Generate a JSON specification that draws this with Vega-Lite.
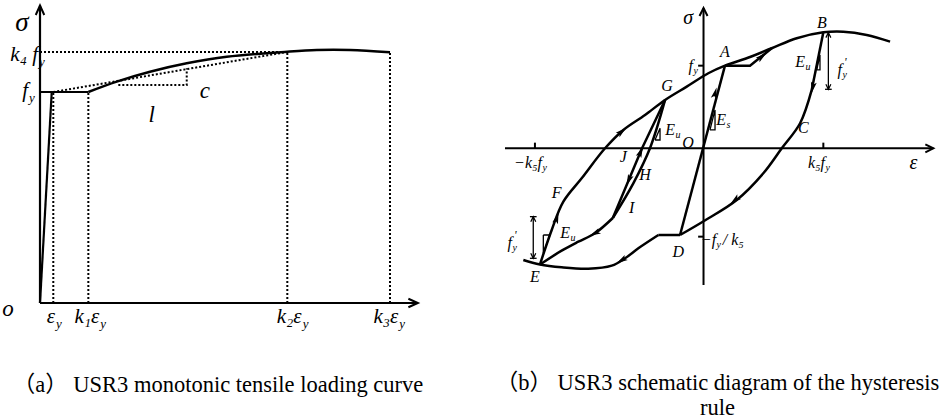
{
  "$schema": "https://vega.github.io/schema/vega-lite/v6.json",
  "autosize": {"type": "pad"},
  "padding": 0,
  "bounds": "flush",
  "spacing": 0,
  "background": "white",
  "config": {"view": {"stroke": null}},
  "datasets": {
    "L_straight": [
      {"s": "yaxis", "o": 0, "x": 0, "y": 0}, {"s": "yaxis", "o": 1, "x": 0, "y": 1.41},
      {"s": "xaxis", "o": 0, "x": 0, "y": 0}, {"s": "xaxis", "o": 1, "x": 29.0, "y": 0},
      {"s": "elastic", "o": 0, "x": 0, "y": 0}, {"s": "elastic", "o": 1, "x": 0.9, "y": 1.0},
      {"s": "plateau", "o": 0, "x": 0, "y": 1.0}, {"s": "plateau", "o": 1, "x": 3.71, "y": 1.0}
    ],
    "L_curve": [
      {"s": "hard", "o": 0, "x": 3.71, "y": 1.0},
      {"s": "hard", "o": 1, "x": 5.89, "y": 1.049},
      {"s": "hard", "o": 2, "x": 8.44, "y": 1.096},
      {"s": "hard", "o": 3, "x": 11.26, "y": 1.136},
      {"s": "hard", "o": 4, "x": 14.33, "y": 1.167},
      {"s": "hard", "o": 5, "x": 18.98, "y": 1.191},
      {"s": "hard", "o": 6, "x": 21.24, "y": 1.199},
      {"s": "hard", "o": 7, "x": 23.79, "y": 1.199},
      {"s": "hard", "o": 8, "x": 26.86, "y": 1.188}
    ],
    "L_dotted": [
      {"s": "d1", "o": 0, "x": 1.02, "y": 0}, {"s": "d1", "o": 1, "x": 1.02, "y": 1.0},
      {"s": "d2", "o": 0, "x": 3.71, "y": 0}, {"s": "d2", "o": 1, "x": 3.71, "y": 1.0},
      {"s": "d3", "o": 0, "x": 18.98, "y": 0}, {"s": "d3", "o": 1, "x": 18.98, "y": 1.19},
      {"s": "d4", "o": 0, "x": 26.86, "y": 0}, {"s": "d4", "o": 1, "x": 26.86, "y": 1.188},
      {"s": "d5", "o": 0, "x": 0, "y": 1.19}, {"s": "d5", "o": 1, "x": 18.98, "y": 1.19},
      {"s": "d6", "o": 0, "x": 1.02, "y": 1.0}, {"s": "d6", "o": 1, "x": 18.98, "y": 1.19},
      {"s": "d7", "o": 0, "x": 6.01, "y": 1.033}, {"s": "d7", "o": 1, "x": 11.26, "y": 1.033}, {"s": "d7", "o": 2, "x": 11.26, "y": 1.112}
    ],
    "L_heads": [
      {"x": 0, "y": 1.41, "a": 0},
      {"x": 29.0, "y": 0, "a": 90}
    ],
    "L_sym": [
      {"t": "σ", "x": -1.38, "y": 1.327}
    ],
    "L_plain": [
      {"t": "o", "x": -2.456, "y": -0.028},
      {"t": "c", "x": 12.66, "y": 1.005},
      {"t": "l", "x": 8.57, "y": 0.893}
    ],
    "L_sub": [
      {"m": "k₄ f", "sub": "y", "x": -0.15, "y": 1.175},
      {"m": "f", "sub": "y", "x": -0.921, "y": 1.006},
      {"m": "ε", "sub": "y", "x": 1.151, "y": -0.066},
      {"m": "k₁ε", "sub": "y", "x": 4.55, "y": -0.066},
      {"m": "k₂ε", "sub": "y", "x": 20.08, "y": -0.066},
      {"m": "k₃ε", "sub": "y", "x": 27.5, "y": -0.066}
    ],
    "R_axes": [
      {"s": "xaxis", "o": 0, "x": -1.657, "y": 0}, {"s": "xaxis", "o": 1, "x": 1.918, "y": 0},
      {"s": "yaxis", "o": 0, "x": 0, "y": -1.655}, {"s": "yaxis", "o": 1, "x": 0, "y": 1.699},
      {"s": "t1", "o": 0, "x": -1.407, "y": 0}, {"s": "t1", "o": 1, "x": -1.407, "y": 0.068},
      {"s": "t2", "o": 0, "x": 1.0, "y": 0}, {"s": "t2", "o": 1, "x": 1.0, "y": 0.068},
      {"s": "t3", "o": 0, "x": -0.045, "y": 1.0}, {"s": "t3", "o": 1, "x": 0, "y": 1.0},
      {"s": "t4", "o": 0, "x": -0.045, "y": -1.07}, {"s": "t4", "o": 1, "x": 0, "y": -1.07}
    ],
    "R_straight": [
      {"s": "DA", "o": 0, "x": -0.196, "y": -1.05}, {"s": "DA", "o": 1, "x": 0.179, "y": 1.0},
      {"s": "Aplat", "o": 0, "x": 0.179, "y": 1.0}, {"s": "Aplat", "o": 1, "x": 0.388, "y": 1.0}, {"s": "Aplat", "o": 2, "x": 0.569, "y": 1.211},
      {"s": "Bdrop", "o": 0, "x": 1.0, "y": 1.404}, {"s": "Bdrop", "o": 1, "x": 0.903, "y": 0.706},
      {"s": "Dplat", "o": 0, "x": -0.196, "y": -1.05}, {"s": "Dplat", "o": 1, "x": -0.377, "y": -1.05},
      {"s": "GIleft", "o": 0, "x": -0.321, "y": 0.585}, {"s": "GIleft", "o": 1, "x": -0.513, "y": 0}, {"s": "GIleft", "o": 2, "x": -0.757, "y": -0.844}
    ],
    "R_curves": [
      {"s": "upper", "o": 0, "x": -1.365, "y": -1.407},
      {"s": "upper", "o": 1, "x": -1.267, "y": -0.989},
      {"s": "upper", "o": 2, "x": -1.17, "y": -0.646},
      {"s": "upper", "o": 3, "x": -1.017, "y": -0.363},
      {"s": "upper", "o": 4, "x": -0.822, "y": 0},
      {"s": "upper", "o": 5, "x": -0.669, "y": 0.222},
      {"s": "upper", "o": 6, "x": -0.488, "y": 0.403},
      {"s": "upper", "o": 7, "x": -0.321, "y": 0.585},
      {"s": "upper", "o": 8, "x": -0.14, "y": 0.746},
      {"s": "upper", "o": 9, "x": 0.04, "y": 0.908},
      {"s": "upper", "o": 10, "x": 0.179, "y": 1.0},
      {"s": "upper", "o": 11, "x": 0.388, "y": 1.105},
      {"s": "upper", "o": 12, "x": 0.569, "y": 1.211},
      {"s": "upper", "o": 13, "x": 0.778, "y": 1.332},
      {"s": "upper", "o": 14, "x": 1.0, "y": 1.404},
      {"s": "upper", "o": 15, "x": 1.167, "y": 1.412},
      {"s": "upper", "o": 16, "x": 1.362, "y": 1.372},
      {"s": "upper", "o": 17, "x": 1.557, "y": 1.291},
      {"s": "unload", "o": 0, "x": 0.903, "y": 0.706},
      {"s": "unload", "o": 1, "x": 0.806, "y": 0.303},
      {"s": "unload", "o": 2, "x": 0.653, "y": 0},
      {"s": "unload", "o": 3, "x": 0.499, "y": -0.303},
      {"s": "unload", "o": 4, "x": 0.277, "y": -0.626},
      {"s": "unload", "o": 5, "x": 0.004, "y": -0.88},
      {"s": "unload", "o": 6, "x": -0.196, "y": -1.05},
      {"s": "bottom", "o": 0, "x": -0.377, "y": -1.05},
      {"s": "bottom", "o": 1, "x": -0.544, "y": -1.211},
      {"s": "bottom", "o": 2, "x": -0.655, "y": -1.332},
      {"s": "bottom", "o": 3, "x": -0.766, "y": -1.421},
      {"s": "bottom", "o": 4, "x": -0.962, "y": -1.458},
      {"s": "bottom", "o": 5, "x": -1.184, "y": -1.441},
      {"s": "bottom", "o": 6, "x": -1.365, "y": -1.407},
      {"s": "bottom", "o": 7, "x": -1.504, "y": -1.352},
      {"s": "IE", "o": 0, "x": -0.757, "y": -0.844},
      {"s": "IE", "o": 1, "x": -0.906, "y": -1.029},
      {"s": "IE", "o": 2, "x": -1.045, "y": -1.131},
      {"s": "IE", "o": 3, "x": -1.184, "y": -1.24},
      {"s": "IE", "o": 4, "x": -1.365, "y": -1.407},
      {"s": "GIright", "o": 0, "x": -0.321, "y": 0.585},
      {"s": "GIright", "o": 1, "x": -0.447, "y": 0},
      {"s": "GIright", "o": 2, "x": -0.586, "y": -0.424},
      {"s": "GIright", "o": 3, "x": -0.757, "y": -0.844}
    ],
    "R_thin": [
      {"s": "dimB", "o": 0, "x": 1.042, "y": 1.4}, {"s": "dimB", "o": 1, "x": 1.042, "y": 0.714},
      {"s": "barB", "o": 0, "x": 1.014, "y": 0.714}, {"s": "barB", "o": 1, "x": 1.07, "y": 0.714},
      {"s": "dimE", "o": 0, "x": -1.421, "y": -0.828}, {"s": "dimE", "o": 1, "x": -1.421, "y": -1.332},
      {"s": "barE1", "o": 0, "x": -1.449, "y": -0.828}, {"s": "barE1", "o": 1, "x": -1.393, "y": -0.828},
      {"s": "barE2", "o": 0, "x": -1.449, "y": -1.332}, {"s": "barE2", "o": 1, "x": -1.393, "y": -1.332},
      {"s": "triS", "o": 0, "x": 0.054, "y": 0.222}, {"s": "triS", "o": 1, "x": 0.096, "y": 0.222}, {"s": "triS", "o": 2, "x": 0.096, "y": 0.464}, {"s": "triS", "o": 3, "x": 0.054, "y": 0.222},
      {"s": "triG", "o": 0, "x": -0.405, "y": 0.1}, {"s": "triG", "o": 1, "x": -0.363, "y": 0.1}, {"s": "triG", "o": 2, "x": -0.363, "y": 0.242}, {"s": "triG", "o": 3, "x": -0.405, "y": 0.1},
      {"s": "triB", "o": 0, "x": 0.945, "y": 0.948}, {"s": "triB", "o": 1, "x": 0.972, "y": 0.948}, {"s": "triB", "o": 2, "x": 0.972, "y": 1.13}, {"s": "triB", "o": 3, "x": 0.945, "y": 0.948},
      {"s": "triE", "o": 0, "x": -1.337, "y": -1.05}, {"s": "triE", "o": 1, "x": -1.281, "y": -1.05}, {"s": "triE", "o": 2, "x": -1.337, "y": -1.271}, {"s": "triE", "o": 3, "x": -1.337, "y": -1.05}
    ],
    "R_heads": [
      {"x": 0, "y": 1.699, "a": 0},
      {"x": 1.918, "y": 0, "a": 90}
    ],
    "R_dimheads": [
      {"x": 1.042, "y": 1.4, "a": 0},
      {"x": 1.042, "y": 0.714, "a": 180},
      {"x": -1.421, "y": -0.828, "a": 0},
      {"x": -1.421, "y": -1.332, "a": 180}
    ],
    "R_arrows": [
      {"x": -1.225, "y": -0.847, "a": 18},
      {"x": -0.683, "y": 0.201, "a": 50},
      {"x": 0.486, "y": 1.109, "a": 51},
      {"x": 0.096, "y": 0.666, "a": 15},
      {"x": 0.912, "y": 0.738, "a": 191},
      {"x": 0.263, "y": -0.626, "a": 231},
      {"x": -0.683, "y": -1.355, "a": 239},
      {"x": -0.906, "y": -1.029, "a": 244},
      {"x": -0.525, "y": -0.045, "a": 23},
      {"x": -0.624, "y": -0.384, "a": 203}
    ],
    "R_sym": [
      {"t": "σ", "x": -0.129, "y": 1.578},
      {"t": "ε", "x": 1.751, "y": -0.182}
    ],
    "R_plain": [
      {"t": "O", "x": -0.129, "y": 0.064},
      {"t": "A", "x": 0.179, "y": 1.169},
      {"t": "B", "x": 0.987, "y": 1.513},
      {"t": "C", "x": 0.833, "y": 0.242},
      {"t": "D", "x": -0.21, "y": -1.252},
      {"t": "E", "x": -1.407, "y": -1.554},
      {"t": "F", "x": -1.225, "y": -0.545},
      {"t": "G", "x": -0.305, "y": 0.754},
      {"t": "H", "x": -0.488, "y": -0.323},
      {"t": "I", "x": -0.599, "y": -0.726},
      {"t": "J", "x": -0.669, "y": -0.102}
    ],
    "R_after": [
      {"t": "/ k₅", "x": 0.16, "y": -1.11}
    ],
    "R_sub": [
      {"m": "f", "sub": "y", "sup": "", "x": -0.088, "y": 0.996},
      {"m": "−k₅f", "sub": "y", "sup": "", "x": -1.348, "y": -0.178},
      {"m": "k₅f", "sub": "y", "sup": "", "x": 1.014, "y": -0.178},
      {"m": "−f", "sub": "y", "sup": "", "x": 0.105, "y": -1.11},
      {"m": "E", "sub": "s", "sup": "", "x": 0.188, "y": 0.343},
      {"m": "E", "sub": "u", "sup": "", "x": -0.238, "y": 0.222},
      {"m": "E", "sub": "u", "sup": "", "x": 0.847, "y": 1.048},
      {"m": "E", "sub": "u", "sup": "", "x": -1.114, "y": -1.029},
      {"m": "f", "sub": "y", "sup": "'", "x": 1.156, "y": 0.948},
      {"m": "f", "sub": "y", "sup": "'", "x": -1.598, "y": -1.15}
    ]
  },
  "hconcat": [
    {
      "width": 470,
      "height": 330,
      "title": {
        "text": "（a） USR3 monotonic tensile loading curve",
        "orient": "bottom", "anchor": "middle", "frame": "group",
        "offset": 43, "dx": -17, "baseline": "top",
        "font": "Liberation Serif, Noto Sans CJK SC", "fontSize": 22.5, "fontWeight": "normal", "color": "black"
      },
      "encoding": {
        "x": {"field": "x", "type": "quantitative", "scale": {"domain": [-3.07, 33.0], "nice": false, "zero": false}, "axis": null},
        "y": {"field": "y", "type": "quantitative", "scale": {"domain": [-0.128, 1.436], "nice": false, "zero": false}, "axis": null}
      },
      "layer": [
        {"data": {"name": "L_dotted"}, "mark": {"type": "line", "color": "black", "strokeWidth": 2, "strokeDash": [2, 2]},
         "encoding": {"detail": {"field": "s"}, "order": {"field": "o"}}},
        {"data": {"name": "L_straight"}, "mark": {"type": "line", "color": "black", "strokeWidth": 2.2},
         "encoding": {"detail": {"field": "s"}, "order": {"field": "o"}}},
        {"data": {"name": "L_curve"}, "mark": {"type": "line", "color": "black", "strokeWidth": 2.5, "interpolate": "catmull-rom"},
         "encoding": {"detail": {"field": "s"}, "order": {"field": "o"}}},
        {"data": {"name": "L_heads"}, "mark": {"type": "point", "shape": "M-0.45,1L0,0L0.45,1", "filled": false, "color": "black", "strokeWidth": 2, "opacity": 1, "size": 360},
         "encoding": {"angle": {"field": "a", "type": "quantitative", "scale": null}}},
        {"data": {"name": "L_sym"}, "mark": {"type": "text", "font": "Liberation Serif", "fontStyle": "italic", "fontSize": 27, "color": "black", "align": "center", "baseline": "middle"},
         "encoding": {"text": {"field": "t"}}},
        {"data": {"name": "L_plain"}, "mark": {"type": "text", "font": "Liberation Serif", "fontStyle": "italic", "fontSize": 23, "color": "black", "align": "center", "baseline": "middle"},
         "encoding": {"text": {"field": "t"}}},
        {"data": {"name": "L_sub"}, "mark": {"type": "text", "font": "Liberation Serif", "fontStyle": "italic", "fontSize": 21, "color": "black", "align": "right", "baseline": "middle"},
         "encoding": {"text": {"field": "m"}}},
        {"data": {"name": "L_sub"}, "mark": {"type": "text", "font": "Liberation Serif", "fontStyle": "italic", "fontSize": 13, "color": "black", "align": "left", "baseline": "middle", "dx": 1, "dy": 7},
         "encoding": {"text": {"field": "sub"}}}
      ]
    },
    {
      "width": 471,
      "height": 330,
      "title": {
        "text": ["（b） USR3 schematic diagram of the hysteresis", "rule"],
        "orient": "bottom", "anchor": "middle", "frame": "group",
        "offset": 42, "dx": 12, "baseline": "top", "lineHeight": 25,
        "font": "Liberation Serif, Noto Sans CJK SC", "fontSize": 22.5, "fontWeight": "normal", "color": "black"
      },
      "encoding": {
        "x": {"field": "x", "type": "quantitative", "scale": {"domain": [-1.949, 1.982], "nice": false, "zero": false}, "axis": null},
        "y": {"field": "y", "type": "quantitative", "scale": {"domain": [-2.2, 1.795], "nice": false, "zero": false}, "axis": null}
      },
      "layer": [
        {"data": {"name": "R_axes"}, "mark": {"type": "line", "color": "black", "strokeWidth": 2},
         "encoding": {"detail": {"field": "s"}, "order": {"field": "o"}}},
        {"data": {"name": "R_straight"}, "mark": {"type": "line", "color": "black", "strokeWidth": 2.5},
         "encoding": {"detail": {"field": "s"}, "order": {"field": "o"}}},
        {"data": {"name": "R_curves"}, "mark": {"type": "line", "color": "black", "strokeWidth": 2.5, "interpolate": "catmull-rom"},
         "encoding": {"detail": {"field": "s"}, "order": {"field": "o"}}},
        {"data": {"name": "R_thin"}, "mark": {"type": "line", "color": "black", "strokeWidth": 1.3},
         "encoding": {"detail": {"field": "s"}, "order": {"field": "o"}}},
        {"data": {"name": "R_heads"}, "mark": {"type": "point", "shape": "M-0.5,1L0,0L0.5,1", "filled": false, "color": "black", "strokeWidth": 2, "opacity": 1, "size": 256},
         "encoding": {"angle": {"field": "a", "type": "quantitative", "scale": null}}},
        {"data": {"name": "R_dimheads"}, "mark": {"type": "point", "shape": "M-0.5,1L0,0L0.5,1", "filled": false, "color": "black", "strokeWidth": 1.2, "opacity": 1, "size": 100},
         "encoding": {"angle": {"field": "a", "type": "quantitative", "scale": null}}},
        {"data": {"name": "R_arrows"}, "mark": {"type": "point", "shape": "M0,-1L0.5,0.9L0,0.5L-0.5,0.9Z", "filled": true, "color": "black", "opacity": 1, "size": 140},
         "encoding": {"angle": {"field": "a", "type": "quantitative", "scale": null}}},
        {"data": {"name": "R_sym"}, "mark": {"type": "text", "font": "Liberation Serif", "fontStyle": "italic", "fontSize": 20, "color": "black", "align": "center", "baseline": "middle"},
         "encoding": {"text": {"field": "t"}}},
        {"data": {"name": "R_plain"}, "mark": {"type": "text", "font": "Liberation Serif", "fontStyle": "italic", "fontSize": 16, "color": "black", "align": "center", "baseline": "middle"},
         "encoding": {"text": {"field": "t"}}},
        {"data": {"name": "R_after"}, "mark": {"type": "text", "font": "Liberation Serif", "fontStyle": "italic", "fontSize": 16, "color": "black", "align": "left", "baseline": "middle"},
         "encoding": {"text": {"field": "t"}}},
        {"data": {"name": "R_sub"}, "mark": {"type": "text", "font": "Liberation Serif", "fontStyle": "italic", "fontSize": 16, "color": "black", "align": "right", "baseline": "middle"},
         "encoding": {"text": {"field": "m"}}},
        {"data": {"name": "R_sub"}, "mark": {"type": "text", "font": "Liberation Serif", "fontStyle": "italic", "fontSize": 10, "color": "black", "align": "left", "baseline": "middle", "dx": 0.5, "dy": 5},
         "encoding": {"text": {"field": "sub"}}},
        {"data": {"name": "R_sub"}, "mark": {"type": "text", "font": "Liberation Serif", "fontStyle": "italic", "fontSize": 12, "color": "black", "align": "left", "baseline": "middle", "dx": 2, "dy": -8},
         "encoding": {"text": {"field": "sup"}}}
      ]
    }
  ]
}
